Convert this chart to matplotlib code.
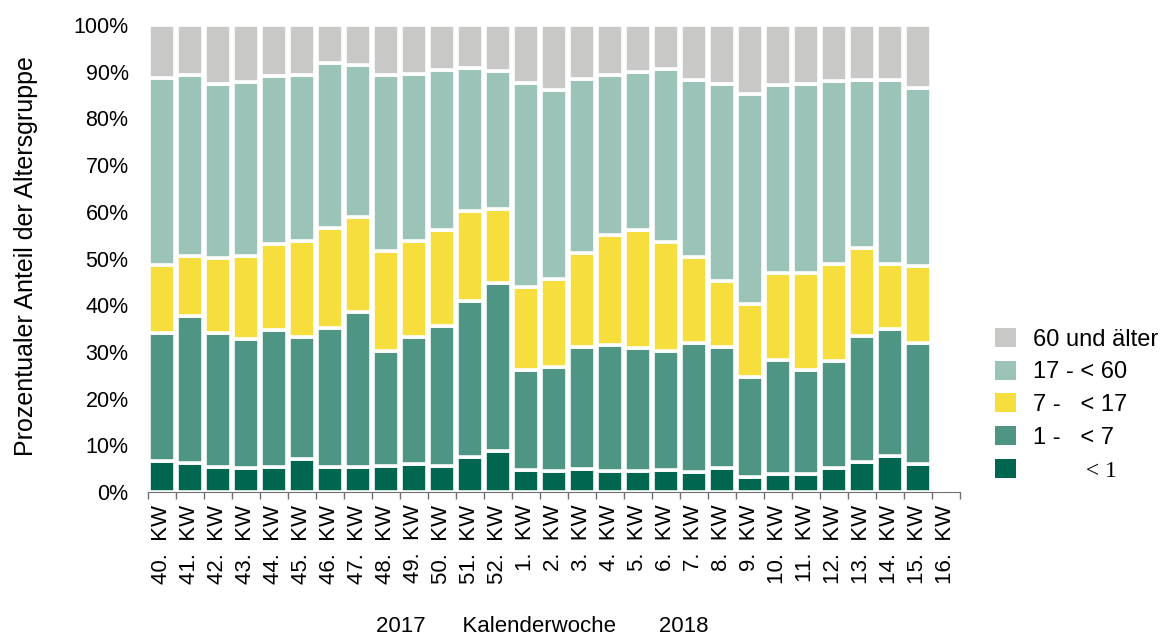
import numpy as np
import matplotlib.pyplot as plt
from matplotlib.ticker import FixedLocator, FuncFormatter

plt.rcParams['font.family'] = ['Liberation Sans', 'DejaVu Sans']

wochen = ['40.  KW', '41.  KW', '42.  KW', '43.  KW', '44.  KW', '45.  KW',
          '46.  KW', '47.  KW', '48.  KW', '49.  KW', '50.  KW', '51.  KW',
          '52.  KW', '1.  KW', '2.  KW', '3.  KW', '4.  KW', '5.  KW',
          '6.  KW', '7.  KW', '8.  KW', '9.  KW', '10.  KW', '11.  KW',
          '12.  KW', '13.  KW', '14.  KW', '15.  KW', '16.  KW']

# Anteile in Prozent je Altersgruppe (16. KW ohne Daten)
unter_1 = [6.6, 6.2, 5.4, 5.2, 5.3, 7.1, 5.4, 5.4, 5.5, 5.9, 5.5, 7.4, 8.8, 4.8,
           4.6, 5.0, 4.4, 4.4, 4.8, 4.2, 5.2, 3.3, 3.9, 3.9, 5.1, 6.4, 7.7, 6.1, 0]
ab_1 = [27.4, 31.5, 28.6, 27.5, 29.3, 26.2, 29.7, 33.2, 24.7, 27.3, 30.1, 33.5, 35.9, 21.3,
        22.1, 26.1, 27.1, 26.5, 25.3, 27.7, 25.9, 21.3, 24.4, 22.2, 22.9, 27.0, 27.3, 25.9, 0]
ab_7 = [14.7, 12.8, 16.2, 17.8, 18.5, 20.4, 21.4, 20.2, 21.5, 20.5, 20.5, 19.3, 15.9, 17.9,
        18.9, 20.1, 23.6, 25.2, 23.5, 18.4, 14.1, 15.6, 18.5, 20.7, 20.8, 18.9, 13.9, 16.5, 0]
ab_17 = [39.9, 38.7, 37.1, 37.2, 35.9, 35.7, 35.3, 32.6, 37.6, 35.9, 34.2, 30.7, 29.5, 43.5,
         40.4, 37.2, 34.3, 33.8, 36.9, 38.0, 42.2, 45.1, 40.3, 40.5, 39.2, 36.0, 39.3, 38.0, 0]
ab_60 = [11.4, 10.8, 12.7, 12.3, 11.0, 10.6, 8.2, 8.6, 10.7, 10.4, 9.7, 9.1, 9.9, 12.5,
         14.0, 11.6, 10.6, 10.1, 9.5, 11.7, 12.6, 14.7, 12.9, 12.7, 12.0, 11.7, 11.8, 13.5, 0]

gruppen = ['< 1', '1 -   < 7', '7 -   < 17', '17 - < 60', '60 und älter']
farben = ['#01664F', '#4E9584', '#F7DE3F', '#9BC3B8', '#C8C8C7']
serien = [unter_1, ab_1, ab_7, ab_17, ab_60]

fig = plt.figure(figsize=(11.66, 6.37), dpi=100)
ax = fig.add_axes([0.1269, 0.2276, 0.6964, 0.7331])

pos = np.arange(len(wochen))
unten = np.zeros(len(wochen))
for werte, farbe, name in zip(serien, farben, gruppen):
    werte = np.array(werte)
    ax.bar(pos, werte, 0.95, bottom=unten, color=farbe, edgecolor='white',
           linewidth=2.6, label=name)
    unten += werte

ax.set_xlim(-0.5, len(wochen) - 0.5)
ax.set_ylim(0, 100)
ax.set_yticks(np.arange(0, 101, 10))
ax.yaxis.set_major_formatter(FuncFormatter(lambda v, p: f'{v:.0f}%'))
ax.tick_params(axis='y', length=0, pad=14, labelsize=15.5)

ax.set_xticks(pos)
ax.set_xticklabels(wochen, rotation=90, fontsize=16)
ax.xaxis.set_minor_locator(FixedLocator(np.arange(-0.5, len(wochen), 1)))
ax.tick_params(axis='x', which='major', length=0, pad=9)
ax.tick_params(axis='x', which='minor', length=5, color='#707070', width=1)

for s in ['left', 'top', 'right']:
    ax.spines[s].set_visible(False)
ax.spines['bottom'].set_color('#707070')

ax.set_ylabel('Prozentualer Anteil der Altersgruppe', fontsize=18)
ax.yaxis.set_label_coords(-0.136, 0.505)
ax.set_xlabel('2017      Kalenderwoche       2018', fontsize=16)
ax.xaxis.set_label_coords(0.486, -0.266)

handles, labels = ax.get_legend_handles_labels()
leg = fig.legend(handles[::-1], labels[::-1], loc='upper left',
                 bbox_to_anchor=(995 / 1166, 1 - 328 / 637), frameon=False,
                 fontsize=17, handlelength=0.89, handleheight=0.85,
                 handletextpad=0.72, labelspacing=0.43, borderpad=0, borderaxespad=0)
for p in leg.get_patches():
    p.set_edgecolor('none')
t = leg.get_texts()[-1]
t.set_text('         < 1')
t.set_fontfamily('Liberation Serif')

fig.savefig('out.png', dpi=100)
